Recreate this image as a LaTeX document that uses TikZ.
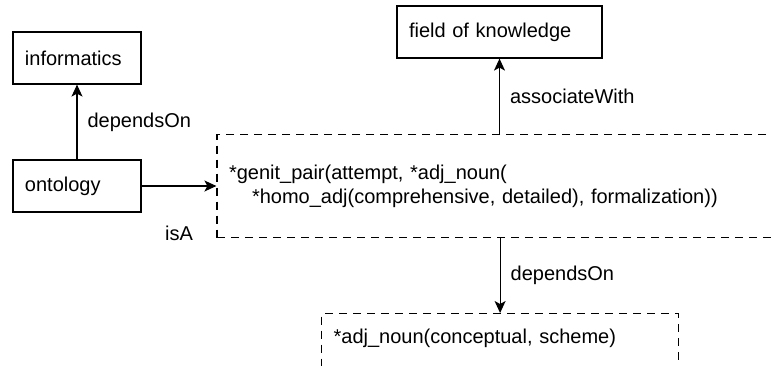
\documentclass[tikz,border=0pt]{standalone}
\usepackage{fontspec}
\setmainfont{Liberation Sans}
\usetikzlibrary{arrows.meta}

\tikzset{
  labelfont/.style={font=\fontsize{10pt}{12pt}\selectfont},
  conceptbox/.style={draw, line width=0.6pt, labelfont, inner xsep=6pt, inner ysep=0pt, align=left},
  termbox/.style={conceptbox, dash pattern=on 4pt off 3pt},
  relation/.style={line width=0.6pt, -{Stealth[length=6pt, width=5.5pt, inset=1.5pt]}},
  relname/.style={labelfont, inner sep=0pt},
}

\begin{document}
\begin{tikzpicture}[x=0.5pt, y=-0.5pt]
    \def \boxHeight {26pt}
    \clip (0,0) rectangle (771,365);
    % Concepts
    \node[conceptbox, text width=52pt, minimum height=\boxHeight] (informatics) at (77,58) {informatics};
    \node[conceptbox, text width=52pt, minimum height=\boxHeight] (ontology) at (77,186) {ontology};
    \node[conceptbox, text width=90.5pt, minimum height=\boxHeight] (field) at (499.5,32) {field of knowledge};
    % Terms (dashed)
    \node[termbox, text width=274.5pt, minimum height=51.5pt] (term) at (503.5,186) {*genit\_pair(attempt, *adj\_noun(\\\hspace*{11.5pt}*homo\_adj(comprehensive, detailed), formalization))};
    \node[termbox, anchor=north west, text width=166.5pt, inner ysep=7.5pt, text height=7.5pt, text depth=25pt] (scheme) at (321,313) {*adj\_noun(conceptual, scheme)};
    % Relations
    \draw[relation] (ontology.north) -- (informatics.south) node[relname, midway, right=5pt] {dependsOn};
    \draw[relation] (ontology.east) -- (term.west) node[relname, midway, below=19.5pt] {isA};
    \draw[relation] (field.south |- term.north) -- (field.south) node[relname, midway, right=5pt] {associateWith};
    \draw[relation] (term.south -| scheme.north) -- (scheme.north) node[relname, midway, right=5pt] {dependsOn};
\end{tikzpicture}
\end{document}
